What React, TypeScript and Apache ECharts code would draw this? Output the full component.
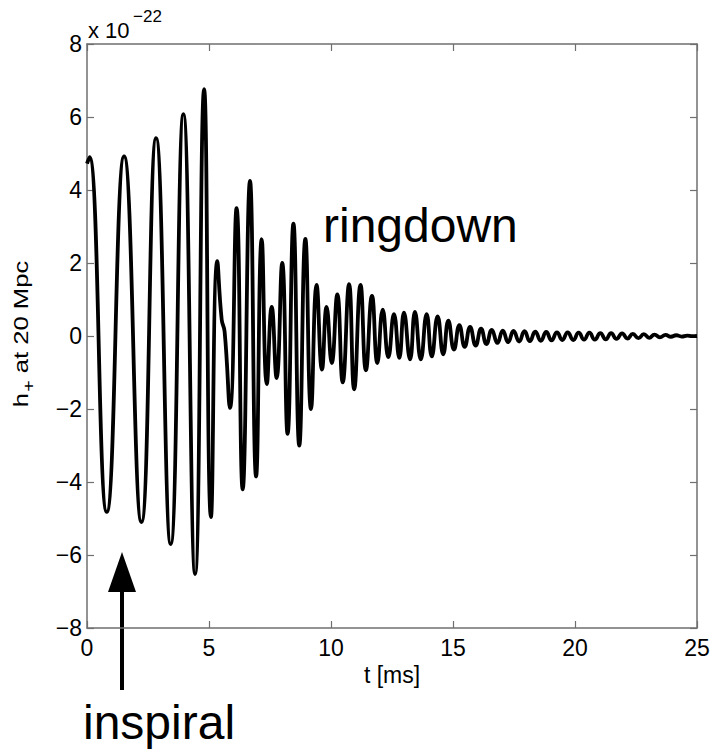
import React, { useEffect, useRef } from "react";
import * as echarts from "echarts";

// Extrema of the h+ waveform (time in ms, strain in 1e-22)
const tMs = [
  0.0, 0.1, 0.81, 1.52, 2.23, 2.83, 3.43, 3.95, 4.43, 4.8, 5.08, 5.34, 5.52, 5.64,
  5.86, 6.13, 6.38, 6.68, 6.93, 7.16, 7.37, 7.57, 7.77, 8.0, 8.22, 8.46, 8.7, 8.95,
  9.18, 9.41, 9.63, 9.82, 10.03, 10.26, 10.48, 10.74, 10.95, 11.21, 11.43, 11.68,
  11.9, 12.12, 12.35, 12.58, 12.8, 12.99, 13.24, 13.44, 13.68, 13.92, 14.13, 14.37,
  14.6, 14.81, 15.04, 15.26, 15.48, 15.7, 15.93, 16.15, 16.37, 16.59, 16.82, 17.04,
  17.26, 17.48, 17.71, 17.93, 18.15, 18.37, 18.6, 18.82, 19.04, 19.26, 19.48, 19.7,
  19.93, 20.15, 20.37, 20.59, 20.81, 21.04, 21.26, 21.48, 21.7, 21.93, 22.15, 22.37,
  22.6, 22.82, 23.04, 23.26, 23.48, 23.71, 23.93, 24.15, 24.37, 24.6, 24.8, 25.0,
];
const hPlus = [
  4.72, 4.9, -4.82, 4.92, -5.1, 5.42, -5.7, 6.08, -6.52, 6.76, -4.96, 2.05, 0.45, 0.12,
  -1.97, 3.5, -4.2, 4.25, -3.85, 2.65, -1.32, 0.8, -1.15, 2.0, -2.68, 3.08, -3.0, 2.66,
  -2.0, 1.4, -0.92, 0.8, -0.74, 1.14, -1.27, 1.42, -1.46, 1.4, -0.94, 1.1, -0.74,
  0.72, -0.58, 0.6, -0.6, 0.64, -0.64, 0.66, -0.64, 0.6, -0.56, 0.54, -0.5, 0.42,
  -0.37, 0.3, -0.3, 0.25, -0.26, 0.2, -0.22, 0.17, -0.19, 0.15, -0.17, 0.14, -0.15,
  0.13, -0.14, 0.12, -0.13, 0.11, -0.12, 0.1, -0.11, 0.1, -0.11, 0.09, -0.1, 0.09,
  -0.1, 0.08, -0.09, 0.08, -0.08, 0.07, -0.07, 0.06, -0.06, 0.05, -0.05, 0.04,
  -0.035, 0.03, -0.02, 0.02, -0.015, 0.01, -0.005, 0.0,
];

const xTicks = [0, 5, 10, 15, 20, 25];
const yTicks = [-8, -6, -4, -2, 0, 2, 4, 6, 8];

const FONT = "'Liberation Sans', Arial, Helvetica, sans-serif";
const AXIS_COLOR = "#6f6f6f";

export default function App() {
  const ref = useRef<HTMLDivElement>(null);

  useEffect(() => {
    if (!ref.current) return;
    const chart = echarts.init(ref.current, undefined, { renderer: "svg" });
    const data = tMs.map((t, i) => [t, hPlus[i]]);
    const minus = (v: number) => String(v).replace("-", "\u2212");

    const baseAxis = {
      type: "value" as const,
      axisLine: { show: true, onZero: false, lineStyle: { color: AXIS_COLOR, width: 1.5 } },
      axisTick: { show: true, inside: true, length: 7, lineStyle: { color: AXIS_COLOR, width: 1.2 } },
      splitLine: { show: false },
    };

    chart.setOption({
      animation: false,
      grid: { left: 87, right: 17, top: 44, bottom: 124 },
      xAxis: [
        {
          ...baseAxis,
          position: "bottom",
          min: xTicks[0],
          max: xTicks[xTicks.length - 1],
          interval: 5,
          axisLabel: {
            color: "#000",
            fontSize: 23,
            fontFamily: FONT,
            margin: 8,
            formatter: (v: number) => minus(v),
          },
          name: "t [ms]",
          nameLocation: "middle",
          nameGap: 31,
          nameTextStyle: { color: "#000", fontSize: 23, fontFamily: FONT, verticalAlign: "top" },
        },
        {
          ...baseAxis,
          position: "top",
          min: xTicks[0],
          max: xTicks[xTicks.length - 1],
          interval: 5,
          axisLabel: { show: false },
        },
      ],
      yAxis: [
        {
          ...baseAxis,
          position: "left",
          min: yTicks[0],
          max: yTicks[yTicks.length - 1],
          interval: 2,
          axisLabel: {
            color: "#000",
            fontSize: 23,
            fontFamily: FONT,
            margin: 5,
            formatter: (v: number) => minus(v),
          },
        },
        {
          ...baseAxis,
          position: "right",
          min: yTicks[0],
          max: yTicks[yTicks.length - 1],
          interval: 2,
          axisLabel: { show: false },
        },
      ],
      series: [
        {
          type: "line",
          xAxisIndex: 0,
          yAxisIndex: 0,
          data,
          smooth: 0.5,
          showSymbol: false,
          symbol: "none",
          lineStyle: { color: "#000", width: 3.8 },
          z: 3,
        },
      ],
      graphic: [
        {
          type: "text",
          x: 21,
          y: 334,
          rotation: Math.PI / 2,
          scaleX: 1.22,
          style: {
            text: "{h|h}{s|+}{h| at 20 Mpc}",
            align: "center",
            verticalAlign: "middle",
            fill: "#000",
            rich: {
              h: { fontSize: 21, fontFamily: FONT, fill: "#000" },
              s: { fontSize: 16, fontFamily: FONT, fill: "#000", padding: [15, 0, 0, 1] },
            },
          },
        },
        {
          type: "text",
          x: 88,
          y: 30,
          style: {
            text: "x 10",
            fontSize: 22,
            fontFamily: FONT,
            fill: "#000",
            align: "left",
            verticalAlign: "middle",
          },
        },
        {
          type: "text",
          x: 133,
          y: 16,
          style: {
            text: "\u221222",
            fontSize: 17,
            fontFamily: FONT,
            fill: "#000",
            align: "left",
            verticalAlign: "middle",
          },
        },
        {
          type: "text",
          x: 323,
          y: 225,
          style: {
            text: "ringdown",
            fontSize: 48,
            fontFamily: FONT,
            fill: "#000",
            align: "left",
            verticalAlign: "middle",
          },
        },
        {
          type: "text",
          x: 83,
          y: 722,
          style: {
            text: "inspiral",
            fontSize: 48,
            fontFamily: FONT,
            fill: "#000",
            align: "left",
            verticalAlign: "middle",
          },
        },
        {
          type: "line",
          shape: { x1: 122, y1: 690, x2: 122, y2: 586 },
          style: { stroke: "#000", lineWidth: 4 },
        },
        {
          type: "polygon",
          shape: { points: [[108, 592], [136, 592], [122, 552]] },
          style: { fill: "#000" },
        },
      ],
    });
    return () => chart.dispose();
  }, []);

  return (
    <div
      ref={ref}
      style={{ position: "fixed", left: 0, top: 0, width: 714, height: 752, background: "#fff" }}
    />
  );
}
